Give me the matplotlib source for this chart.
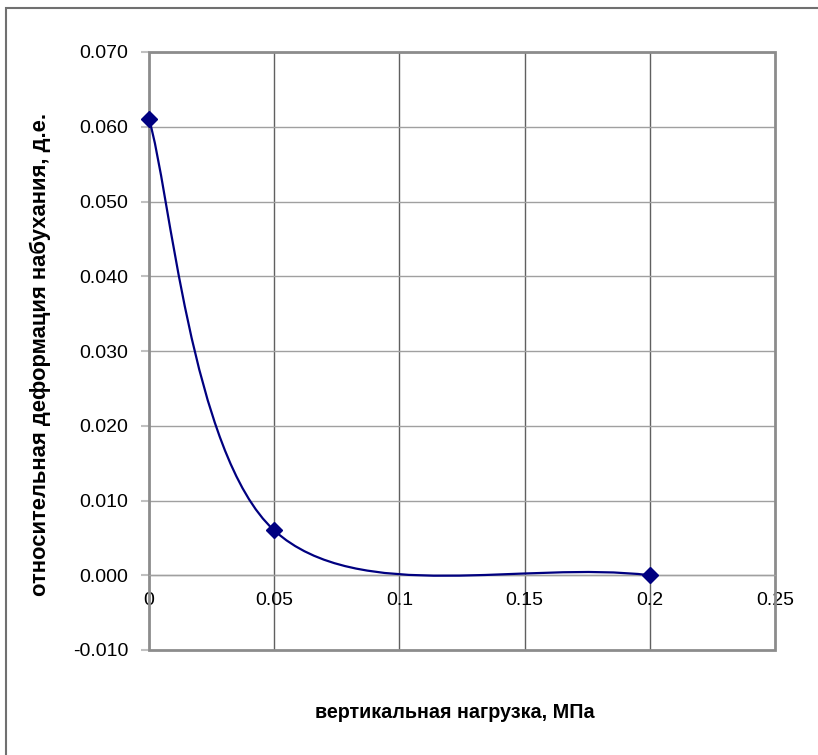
import numpy as np
import matplotlib.pyplot as plt
from matplotlib.path import Path
from matplotlib.patches import PathPatch, Rectangle

plt.rcParams["font.family"] = ["Liberation Sans", "DejaVu Sans"]

# data
load_mpa = [0.0, 0.05, 0.2]
swelling = [0.061, 0.006, 0.0]

x_ticks = [0, 0.05, 0.1, 0.15, 0.2, 0.25]
x_labels = ["0", "0.05", "0.1", "0.15", "0.2", "0.25"]
y_ticks = [-0.010, 0.000, 0.010, 0.020, 0.030, 0.040, 0.050, 0.060, 0.070]

line_col = "#000080"


def excel_smooth_path(xs, ys):
    # Bezier segments, Catmull-Rom style control points (Excel "smoothed line")
    pts = np.column_stack([xs, ys])
    n = len(pts)
    # phantom end points reflected past the ends
    ext = np.vstack([pts[0], pts, 2 * pts[-1] - pts[-2]])
    verts = [pts[0]]
    codes = [Path.MOVETO]
    for i in range(n - 1):
        p_prev, p0, p1, p_next = ext[i], ext[i + 1], ext[i + 2], ext[i + 3]
        c1 = p0 + (p1 - p_prev) / 6.0
        c2 = p1 - (p_next - p0) / 6.0
        verts += [c1, c2, p1]
        codes += [Path.CURVE4] * 3
    return Path(verts, codes)


fig = plt.figure(figsize=(8.18, 7.55), dpi=100)
ax = fig.add_axes([149 / 818, 1 - 650 / 755, 626 / 818, 598 / 755])

ax.set_xlim(0, 0.25)
ax.set_ylim(-0.010, 0.070)

# gridlines
for xv in x_ticks[1:-1]:
    ax.axvline(xv, color="#606060", lw=1.0, zorder=1)
for yv in y_ticks[1:]:
    ax.axhline(yv, color="#a0a0a0", lw=1.0, zorder=1)

# plot area border
ax.add_patch(Rectangle((0, 0), 1, 1, transform=ax.transAxes, fill=False,
                       edgecolor="#8c8c8c", lw=2.0, zorder=2, clip_on=False))

for s in ["top", "right", "left"]:
    ax.spines[s].set_visible(False)
ax.spines["bottom"].set_position(("data", 0))
ax.spines["bottom"].set_color("#a0a0a0")
ax.spines["bottom"].set_linewidth(1.0)

ax.set_xticks(x_ticks)
ax.set_xticklabels(x_labels)
ax.set_yticks(y_ticks)
ax.set_yticklabels([f"{v:.3f}" for v in y_ticks])
ax.tick_params(axis="x", length=0, pad=12, labelsize=14)
ax.tick_params(axis="y", length=6, width=1.5, color="#c0c0c0", pad=9, labelsize=14)

# smoothed curve and markers
ax.add_patch(PathPatch(excel_smooth_path(load_mpa, swelling), facecolor="none",
                       edgecolor=line_col, lw=1.6, zorder=3))
ax.plot(load_mpa, swelling, linestyle="none", marker="D", markersize=8.5,
        color=line_col, zorder=4, clip_on=False)

fig.text(455 / 818, 1 - 712 / 755, "вертикальная нагрузка, МПа",
         ha="center", va="center", fontsize=14.2, fontweight="bold")
fig.text(40 / 818, 1 - 355 / 755, "относительная деформация набухания, д.е.",
         ha="center", va="center", rotation=90, fontsize=15.8, fontweight="bold")

# outer chart border (left and top visible)
fig.add_artist(Rectangle((6 / 818, -0.1), 1.2, 1 - 8 / 755 + 0.1,
                         transform=fig.transFigure, fill=False,
                         edgecolor="#707070", lw=1.5))

fig.savefig("out.png", dpi=100)
